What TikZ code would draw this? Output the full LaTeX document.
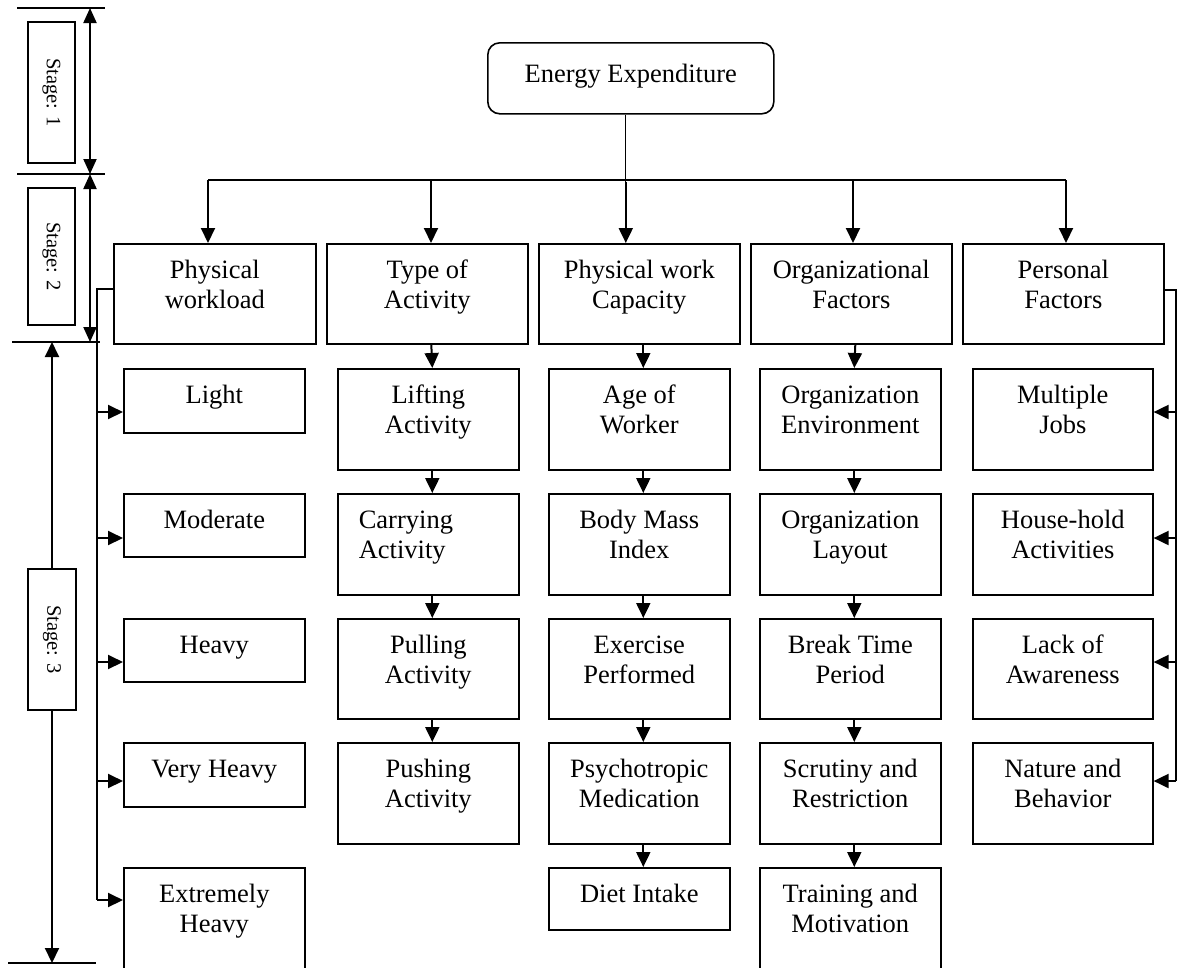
\documentclass[tikz,border=0pt]{standalone}
\usepackage{fontspec}
\setmainfont{Liberation Serif}
\usetikzlibrary{arrows.meta}
\newcommand\tl[2]{\begin{tabular}[t]{@{}c@{}}#1\\#2\end{tabular}}
\newcommand\tll[2]{\begin{tabular}[t]{@{}l@{}}#1\\#2\end{tabular}}
\begin{document}
\begin{tikzpicture}[x=1pt,y=-1pt,
  bx/.style={draw, line width=1.6pt, inner sep=0pt, anchor=north west,
    font=\fontsize{26.5}{30}\selectfont, text height=35pt},
  top/.style={bx, text depth=65pt},
  tall/.style={bx, minimum width=181pt, text depth=66pt},
  short/.style={bx, minimum width=181pt, text depth=29pt},
  ln/.style={line width=2pt},
  thin/.style={line width=1.3pt},
  arr/.style={line width=2pt, -{Triangle[length=15pt,width=14pt]}},
  dbl/.style={line width=2pt, {Triangle[length=15pt,width=13pt]}-{Triangle[length=15pt,width=13pt]}},
  stg/.style={draw, line width=1.6pt, rotate=-90, inner sep=0pt,
    font=\fontsize{20.5}{24}\selectfont}]
\clip (0,0) rectangle (1180,967);
% root
\node[bx, rounded corners=12pt, minimum width=286pt, text height=40pt, text depth=31pt] (root) at (487,42) {Energy Expenditure};
% stage 2
\node[top, minimum width=202pt] (b1) at (113,243) {\tl{Physical}{workload}};
\node[top, minimum width=201pt] (b2) at (326,243) {\tl{Type of}{Activity}};
\node[top, minimum width=201pt] (b3) at (538,243) {\tl{Physical work}{Capacity}};
\node[top, minimum width=201pt] (b4) at (750,243) {\tl{Organizational}{Factors}};
\node[top, minimum width=201pt] (b5) at (962,243) {\tl{Personal}{Factors}};
% column 1
\node[short] (c11) at (123,368) {Light};
\node[short, text depth=28pt] (c12) at (123,493) {Moderate};
\node[short, text depth=28pt] (c13) at (123,618) {Heavy};
\node[short] (c14) at (123,742) {Very Heavy};
\node[tall, text depth=120pt] (c15) at (123,867) {\tl{Extremely}{Heavy}};
% column 2
\node[tall] (c21) at (337,368) {\tl{Lifting}{Activity}};
\node[tall] (c22) at (337,493) {\makebox[181pt][l]{\hspace{21pt}\tll{Carrying}{Activity}}};
\node[tall, text depth=65pt] (c23) at (337,618) {\tl{Pulling}{Activity}};
\node[tall] (c24) at (337,742) {\tl{Pushing}{Activity}};
% column 3
\node[tall] (c31) at (548,368) {\tl{Age of}{Worker}};
\node[tall] (c32) at (548,493) {\tl{Body Mass}{Index}};
\node[tall, text depth=65pt] (c33) at (548,618) {\tl{Exercise}{Performed}};
\node[tall] (c34) at (548,742) {\tl{Psychotropic}{Medication}};
\node[tall, text depth=27pt] (c35) at (548,867) {Diet Intake};
% column 4
\node[tall] (c41) at (759,368) {\tl{Organization}{Environment}};
\node[tall] (c42) at (759,493) {\tl{Organization}{Layout}};
\node[tall, text depth=65pt] (c43) at (759,618) {\tl{Break Time}{Period}};
\node[tall] (c44) at (759,742) {\tl{Scrutiny and}{Restriction}};
\node[tall, text depth=120pt] (c45) at (759,867) {\tl{Training and}{Motivation}};
% column 5
\node[tall, minimum width=180pt] (c51) at (972,368) {\tl{Multiple}{Jobs}};
\node[tall, minimum width=180pt] (c52) at (972,493) {\tl{House-hold}{Activities}};
\node[tall, minimum width=180pt, text depth=65pt] (c53) at (972,618) {\tl{Lack of}{Awareness}};
\node[tall, minimum width=180pt] (c54) at (972,742) {\tl{Nature and}{Behavior}};
% top connectors
\draw[thin] ([xshift=-5pt]root.south) -- ++(0,67) coordinate (j);
\coordinate (t1) at (208,180);
\coordinate (t2) at (431,180);
\coordinate (t4) at (853,180);
\coordinate (t5) at (1066,180);
\draw[ln] (t1) -- (t5);
\draw[arr] (t1) -- (t1 |- b1.north);
\draw[arr] (t2) -- (t2 |- b2.north);
\draw[arr] (j) -- (j |- b3.north);
\draw[arr] (t4) -- (t4 |- b4.north);
\draw[arr] (t5) -- (t5 |- b5.north);
% column chains
\foreach \a/\b in {b2/c21,c21/c22,c22/c23,c23/c24,
                   b3/c31,c31/c32,c32/c33,c33/c34,c34/c35,
                   b4/c41,c41/c42,c42/c43,c43/c44,c44/c45}
  \draw[arr] ([xshift=4pt]\a.south) -- ([xshift=4pt]\b.north);
% column 1 bus
\coordinate (l0) at (97,289);
\coordinate (l5) at (97,900);
\draw[ln] (b1.west |- l0) -- (l0) -- (l5);
\foreach \n/\y in {c11/412,c12/538,c13/662,c14/781,c15/900}{
  \coordinate (p) at (97,\y);
  \draw[arr] (p) -- (p -| \n.west);}
% column 5 bus
\coordinate (r0) at (1176,290);
\coordinate (r4) at (1176,781);
\draw[ln] (b5.east |- r0) -- (r0) -- (r4);
\foreach \n/\y in {c51/412,c52/538,c53/662,c54/781}{
  \coordinate (q) at (1176,\y);
  \draw[arr] (q) -- (q -| \n.east);}
% stage markers
\node[stg, minimum width=141pt, minimum height=47pt] (s1) at (51.5,92.5) {Stage: 1};
\node[stg, minimum width=137pt, minimum height=47pt] (s2) at (51.5,256.5) {Stage: 2};
\node[stg, minimum width=141pt, minimum height=48pt] (s3) at (52,639.5) {Stage: 3};
\coordinate (h0a) at (17,8);  \coordinate (h0b) at (105,8);
\coordinate (h1a) at (17,174); \coordinate (h1b) at (105,174);
\coordinate (h2a) at (12,342); \coordinate (h2b) at (100,342);
\coordinate (h3a) at (8,963);  \coordinate (h3b) at (96,963);
\draw[ln] (h0a) -- (h0b);
\draw[ln] (h1a) -- (h1b);
\draw[ln] (h2a) -- (h2b);
\draw[ln] (h3a) -- (h3b);
\coordinate (m0) at (90,8);
\coordinate (m1) at (90,174);
\coordinate (m2) at (90,342);
\draw[dbl] (m0) -- (m1);
\draw[dbl] (m1) -- (m2);
\draw[arr] (s3.west) -- (s3.west |- h2a);
\draw[arr] (s3.east) -- (s3.east |- h3a);
\end{tikzpicture}
\end{document}
